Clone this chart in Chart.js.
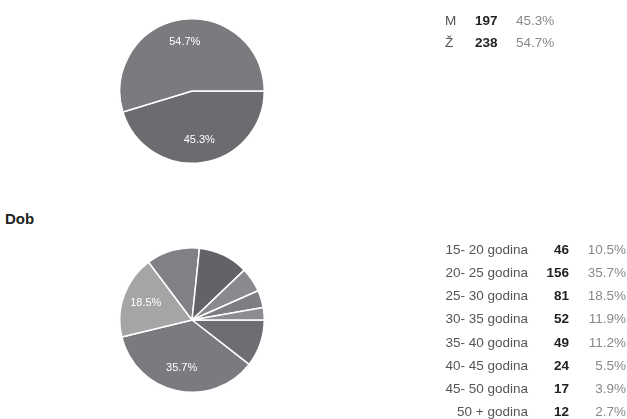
<!DOCTYPE html>
<html>
<head>
<meta charset="utf-8">
<script src="https://cdn.jsdelivr.net/npm/chart.js@4"></script>
<style>
  html, body { margin: 0; padding: 0; background: #fff; }
  body { width: 627px; height: 419px; position: relative; overflow: hidden;
         font-family: "Liberation Sans", Arial, sans-serif; }
  canvas { position: absolute; }
  .title { position: absolute; left: 5px; top: 210px; font-size: 15px; font-weight: bold; color: #222; }
  .row { position: absolute; height: 20px; line-height: 20px; font-size: 13.5px; white-space: nowrap; }
  .row span { position: absolute; top: 0; }
  .lab { color: #555; }
  .cnt { color: #222; font-weight: bold; }
  .pct { color: #888; }
</style>
</head>
<body>
<canvas id="genderPie" width="146" height="146" style="left:119px; top:18px"></canvas>
<div class="title">Dob</div>
<canvas id="agePie" width="146" height="146" style="left:119px; top:247px"></canvas>
<div id="tables"></div>
<script>
(function () {
    'use strict';

    const GENDER_LABELS = ['M', 'Ž'];
    const GENDER_COUNTS = [197, 238];
    const GENDER_PCT = ['45.3%', '54.7%'];
    const GENDER_COLORS = ['#6c6c70', '#7b7b7f'];

    const AGE_LABELS = ['15- 20 godina', '20- 25 godina', '25- 30 godina', '30- 35 godina',
        '35- 40 godina', '40- 45 godina', '45- 50 godina', '50 + godina'];
    const AGE_COUNTS = [46, 156, 81, 52, 49, 24, 17, 12];
    const AGE_PCT = ['10.5%', '35.7%', '18.5%', '11.9%', '11.2%', '5.5%', '3.9%', '2.7%'];
    const AGE_COLORS = ['#6e6e72', '#7b7b7f', '#a5a5a8', '#818185', '#636367', '#8a8a8e', '#7e7e82', '#8d8d91'];

    // write percentage into slices that are big enough (like the google summary)
    const sliceLabels = {
        id: 'sliceLabels',
        afterDatasetsDraw(chart) {
            const ctx = chart.ctx;
            const ds = chart.data.datasets[0];
            const total = ds.data.reduce((a, b) => a + b, 0);
            chart.getDatasetMeta(0).data.forEach((arc, i) => {
                const share = ds.data[i] / total;
                if (share < 0.15) return;
                const p = arc.getProps(['x', 'y', 'startAngle', 'endAngle', 'outerRadius'], true);
                const mid = (p.startAngle + p.endAngle) / 2;
                const r = p.outerRadius * 0.68;
                ctx.save();
                ctx.fillStyle = '#fff';
                ctx.font = '11px "Liberation Sans", Arial, sans-serif';
                ctx.textAlign = 'center';
                ctx.textBaseline = 'middle';
                ctx.fillText((share * 100).toFixed(1) + '%', p.x + Math.cos(mid) * r, p.y + Math.sin(mid) * r);
                ctx.restore();
            });
        }
    };

    function makePie(id, labels, counts, colors) {
        new Chart(document.getElementById(id), {
            type: 'pie',
            data: {
                labels: labels,
                datasets: [{
                    data: counts,
                    backgroundColor: colors,
                    borderColor: '#fff',
                    borderWidth: 1.5
                }]
            },
            options: {
                responsive: false,
                animation: false,
                rotation: 90,
                layout: { padding: 0 },
                plugins: { legend: { display: false }, tooltip: { enabled: false } }
            },
            plugins: [sliceLabels]
        });
    }

    makePie('genderPie', GENDER_LABELS, GENDER_COUNTS, GENDER_COLORS);
    makePie('agePie', AGE_LABELS, AGE_COUNTS, AGE_COLORS);

    // summary tables on the right
    const box = document.getElementById('tables');
    function addRow(top, cells) {
        const row = document.createElement('div');
        row.className = 'row';
        row.style.top = top + 'px';
        row.style.left = '0px';
        row.style.width = '627px';
        cells.forEach(c => {
            const s = document.createElement('span');
            s.className = c.cls;
            s.textContent = c.text;
            if (c.left != null) s.style.left = c.left + 'px';
            else s.style.right = (627 - c.right) + 'px';
            row.appendChild(s);
        });
        box.appendChild(row);
    }

    GENDER_LABELS.forEach((lab, i) => {
        addRow(11 + i * 22, [
            { cls: 'lab', text: lab, left: 445 },
            { cls: 'cnt', text: GENDER_COUNTS[i], left: 475 },
            { cls: 'pct', text: GENDER_PCT[i], left: 516 }
        ]);
    });

    AGE_LABELS.forEach((lab, i) => {
        addRow(240 + i * 23.15, [
            { cls: 'lab', text: lab, right: 528 },
            { cls: 'cnt', text: AGE_COUNTS[i], right: 569 },
            { cls: 'pct', text: AGE_PCT[i], right: 626 }
        ]);
    });
})();
</script>
</body>
</html>
